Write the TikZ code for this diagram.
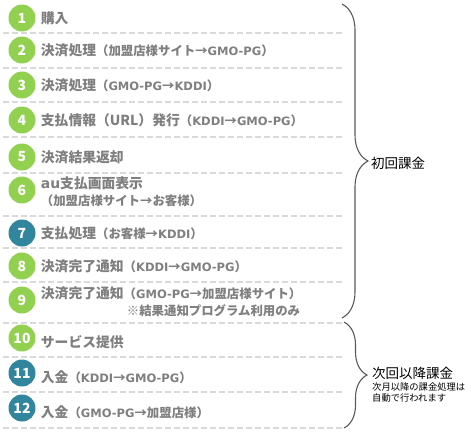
\documentclass[tikz,border=0pt]{standalone}
\usepackage{fontspec}
\setmainfont{Noto Sans CJK JP}
\newfontfamily\latfont{DejaVu Sans}[Scale=0.93]
\usepackage{xcolor}
\usepackage{tikz}
\usetikzlibrary{positioning,decorations.pathreplacing}

\definecolor{stepgreen}{HTML}{92D050}
\definecolor{stepteal}{HTML}{31859C}
\definecolor{txtgray}{HTML}{7F7F7F}
\definecolor{sepgray}{HTML}{D9D9D9}
\definecolor{bracegray}{HTML}{595959}
\newcommand{\pnote}[1]{{\fontsize{12.4}{14}\selectfont #1}}
\newcommand{\ltn}[1]{{\latfont #1}}

\begin{document}
\begin{tikzpicture}[
    x=1pt, y=-1pt,
    num/.style={circle, minimum size=27pt, inner sep=0pt, text=white, font=\fontsize{14}{14}\selectfont\bfseries},
    gnum/.style={num, fill=stepgreen},
    tnum/.style={num, fill=stepteal},
    lbl/.style={inner sep=0pt, align=left, text=txtgray, font=\fontsize{13.8}{17}\selectfont\bfseries},
    sep/.style={sepgray, line width=1.8pt, dash pattern=on 6pt off 3pt},
    brc/.style={bracegray, line width=1.1pt, decorate, decoration={brace, amplitude=#1}},
    grp/.style={inner sep=0pt, font=\fontsize{13.5}{16}\selectfont}
]
    \useasboundingbox (0,0) rectangle (471,434);

    % steps
    \node[gnum] (n1) at (22,18) {1};
    \node[gnum] (n2) at (22,50) {2};
    \node[gnum] (n3) at (22,85) {3};
    \node[gnum] (n4) at (22,120) {4};
    \node[gnum] (n5) at (22,157) {5};
    \node[gnum] (n6) at (22,190) {6};
    \node[tnum] (n7) at (22,233) {7};
    \node[gnum] (n8) at (22,266) {8};
    \node[gnum] (n9) at (22,300) {9};
    \node[gnum] (n10) at (22,338) {10};
    \node[tnum] (n11) at (22,373) {11};
    \node[tnum] (n12) at (22,408) {12};

    \node[lbl, right=5pt of n1] (t1) {購入};
    \node[lbl, right=5pt of n2] (t2) {決済処理\pnote{（加盟店様サイト→\ltn{GMO-PG}）}};
    \node[lbl, right=5pt of n3] (t3) {決済処理\pnote{（\ltn{GMO-PG}→\ltn{KDDI}）}};
    \node[lbl, right=5pt of n4] (t4) {支払情報（URL）発行\pnote{（\ltn{KDDI}→\ltn{GMO-PG}）}};
    \node[lbl, right=5pt of n5] (t5) {決済結果返却};
    \node[lbl, right=5pt of n6, yshift=-2pt] (t6) {\ltn{\fontsize{15}{17}\selectfont au}支払画面表示\\\pnote{（加盟店様サイト→お客様）}};
    \node[lbl, right=5pt of n7] (t7) {支払処理\pnote{（お客様→\ltn{KDDI}）}};
    \node[lbl, right=5pt of n8] (t8) {決済完了通知\pnote{（\ltn{KDDI}→\ltn{GMO-PG}）}};
    \node[lbl, right=5pt of n9, yshift=-2pt] (t9) {決済完了通知\pnote{（\ltn{GMO-PG}→加盟店様サイト）}\\\hspace*{86pt}\pnote{※結果通知プログラム利用のみ}};
    \node[lbl, right=5pt of n10, yshift=-4pt] (t10) {サービス提供};
    \node[lbl, right=5pt of n11, yshift=-4pt] (t11) {入金\pnote{（\ltn{KDDI}→\ltn{GMO-PG}）}};
    \node[lbl, right=5pt of n12, yshift=-4pt] (t12) {入金\pnote{（\ltn{GMO-PG}→加盟店様）}};

    % separators
    \coordinate (s1) at (3,33);
    \coordinate (s2) at (3,68);
    \coordinate (s3) at (3,102);
    \coordinate (s4) at (3,137);
    \coordinate (s5) at (3,173);
    \coordinate (s6) at (3,216);
    \coordinate (s7) at (3,248);
    \coordinate (s8) at (3,282);
    \coordinate (s9) at (3,323);
    \coordinate (s10) at (3,357);
    \coordinate (s11) at (3,392);
    \coordinate (s12) at (3,428);
    \draw[sep] (s1) -- ++(339,0);
    \draw[sep] (s2) -- ++(339,0);
    \draw[sep] (s3) -- ++(339,0);
    \draw[sep] (s4) -- ++(339,0);
    \draw[sep] (s5) -- ++(339,0);
    \draw[sep] (s6) -- ++(339,0);
    \draw[sep] (s7) -- ++(339,0);
    \draw[sep] (s8) -- ++(339,0);
    \draw[sep] (s9) -- ++(342,0);
    \draw[sep] (s10) -- ++(342,0);
    \draw[sep] (s11) -- ++(342,0);
    \draw[sep] (s12) -- ++(342,0);

    % braces
    \coordinate (b1top) at (342,4);
    \coordinate (b1bot) at (342,318);
    \coordinate (b2top) at (344,322);
    \coordinate (b2bot) at (344,428);
    \draw[brc=26pt] (b1top) -- (b1bot);
    \draw[brc=23pt] (b2top) -- (b2bot);

    \coordinate (tip1) at (368,163);
    \coordinate (tip2) at (368,374);
    \node[grp, right=3pt of tip1] (first) {初回課金};
    \node[grp, right=4pt of tip2, yshift=1pt] (next) {次回以降課金};
    \node[inner sep=0pt, align=left, anchor=north west, font=\fontsize{9.3}{11}\selectfont] (nextnote) at ([yshift=-3pt]next.south west) {次月以降の課金処理は\\自動で行われます};
\end{tikzpicture}
\end{document}
